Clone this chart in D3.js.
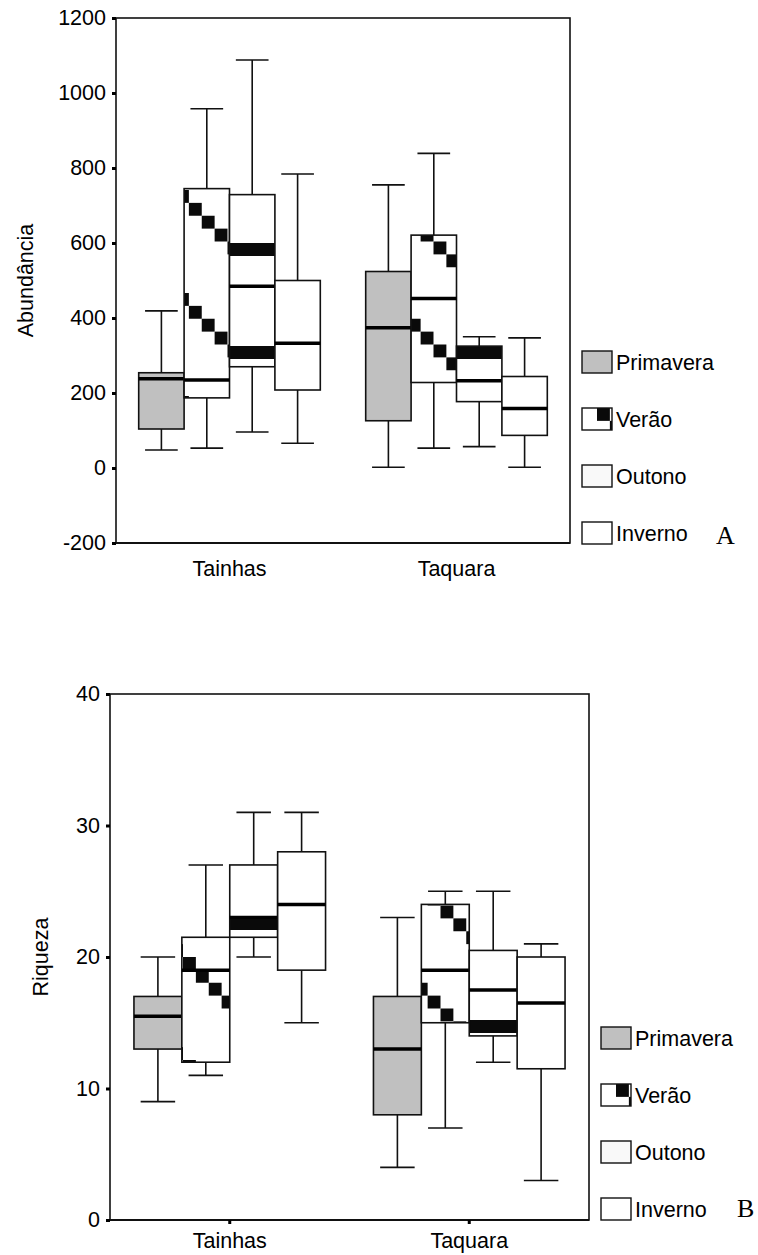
<!DOCTYPE html>
<html lang="pt">
<head>
    <meta charset="UTF-8">
    <title>Abundância e Riqueza</title>
    <script src="https://cdnjs.cloudflare.com/ajax/libs/d3/7.8.5/d3.min.js"></script>
    <style>
        body { margin: 0; background: #fff; }
        text { font-family: "Liberation Sans", Arial, sans-serif; fill: #000; }
    </style>
</head>
<body>
    <div id="wrapper"></div>
    <script>
        // ---- data ----
        const sites = ['Tainhas', 'Taquara']
        const seasons = ['Primavera', 'Verão', 'Outono', 'Inverno']
        // each box: [whisker low, Q1, median, Q3, whisker high], seasons in order
        const abundTainhas = [[48, 104, 238, 254, 419], [53, 187, 235, 745, 958], [96, 270, 485, 729, 1088], [66, 208, 333, 500, 784]]
        const abundTaquara = [[2, 126, 374, 524, 755], [53, 228, 452, 621, 839], [57, 177, 233, 325, 350], [2, 87, 159, 244, 347]]
        const riqTainhas = [[9, 13, 15.5, 17, 20], [11, 12, 19, 21.5, 27], [20, 21.5, 23, 27, 31], [15, 19, 24, 28, 31]]
        const riqTaquara = [[4, 8, 13, 17, 23], [7, 15, 19, 24, 25], [12, 14, 17.5, 20.5, 25], [3, 11.5, 16.5, 20, 21]]
        const abundTicks = [-200, 0, 200, 400, 600, 800, 1000, 1200]
        const riqTicks = [0, 10, 20, 30, 40]

        const charts = [
            {
                title: 'Abundância', letter: 'A', data: [abundTainhas, abundTaquara],
                domain: [-200, 1200], ticks: abundTicks,
                frame: { left: 116, top: 18, right: 570, bottom: 543 },
                titleX: 33, xTicks: false, axisExtend: 1, xPad: 18,
                letterPos: [716, 544], legend: { x: 582, y: 351 },
                veraoOrigin: [176, 190], outonoBand: 243
            },
            {
                title: 'Riqueza', letter: 'B', data: [riqTainhas, riqTaquara],
                domain: [0, 40], ticks: riqTicks,
                frame: { left: 110, top: 694, right: 589, bottom: 1220 },
                titleX: 48, xTicks: true, axisExtend: 3, xPad: 9,
                letterPos: [737, 1217], legend: { x: 601, y: 1027 },
                veraoOrigin: [183, 957], outonoBand: 917
            }
        ]

        const svg = d3.select('#wrapper')
            .append('svg')
                .attr('width', 758)
                .attr('height', 1255)

        const defs = svg.append('defs')
        const cell = 12.875
        const tile = cell * 8

        // diagonal checker used by SPSS for "Verão"
        function diagPattern(id, x, y) {
            const p = defs.append('pattern')
                .attr('id', id)
                .attr('patternUnits', 'userSpaceOnUse')
                .attr('x', x).attr('y', y)
                .attr('width', tile).attr('height', tile)
            p.append('rect').attr('width', tile).attr('height', tile).attr('fill', '#fff')
            p.selectAll('rect.c')
                .data(d3.range(8))
                .join('rect')
                    .attr('class', 'c')
                    .attr('x', d => d * cell)
                    .attr('y', d => d * cell)
                    .attr('width', cell)
                    .attr('height', cell)
                    .attr('fill', '#0a0a0a')
        }

        // horizontal band artefact seen in the "Outono" boxes
        function bandPattern(id, y) {
            const p = defs.append('pattern')
                .attr('id', id)
                .attr('patternUnits', 'userSpaceOnUse')
                .attr('x', 0).attr('y', y)
                .attr('width', 20).attr('height', tile)
            p.append('rect').attr('width', 20).attr('height', tile).attr('fill', '#fff')
            p.append('rect').attr('width', 20).attr('height', 13).attr('fill', '#0a0a0a')
        }

        // legend swatch pattern lives in the legend item's local space
        diagPattern('veraoLeg', 15, 0)

        charts.forEach((c, ci) => {
            const f = c.frame
            diagPattern(`verao${ci}`, c.veraoOrigin[0], c.veraoOrigin[1])
            bandPattern(`outono${ci}`, c.outonoBand)

            const fills = ['#c0c0c0', `url(#verao${ci})`, `url(#outono${ci})`, '#fff']
            const legendFills = ['#c0c0c0', 'url(#veraoLeg)', '#f9f9f9', '#fff']

            const yScale = d3.scaleLinear()
                .domain(c.domain)
                .range([f.bottom, f.top])

            const xScale = d3.scaleBand()
                .domain(sites)
                .range([f.left, f.right])

            const groupWidth = xScale.bandwidth() * 0.8
            const inner = d3.scaleBand()
                .domain(seasons)
                .range([0, groupWidth])
            const offset = (xScale.bandwidth() - groupWidth) / 2

            const g = svg.append('g')

            // frame
            g.append('rect')
                .attr('x', f.left).attr('y', f.top)
                .attr('width', f.right - f.left)
                .attr('height', f.bottom - f.top)
                .attr('fill', 'none')
                .attr('stroke', '#111')
                .attr('stroke-width', 1.6)
            g.append('line')
                .attr('x1', f.left - c.axisExtend).attr('x2', f.right)
                .attr('y1', f.bottom).attr('y2', f.bottom)
                .attr('stroke', '#111')
                .attr('stroke-width', 1.8)

            // boxes
            const boxes = []
            sites.forEach((s, i) => {
                seasons.forEach((se, j) => {
                    boxes.push({ site: s, season: se, j, v: c.data[i][j] })
                })
            })

            const bx = d => xScale(d.site) + offset + inner(d.season)
            const bw = inner.bandwidth()
            const capW = bw * 0.72

            const box = g.selectAll('g.box')
                .data(boxes)
                .join('g')
                    .attr('class', 'box')

            // whiskers
            box.append('path')
                .attr('d', d => {
                    const cx = bx(d) + bw / 2
                    return `M${cx},${yScale(d.v[4])}V${yScale(d.v[3])}` +
                        `M${cx},${yScale(d.v[1])}V${yScale(d.v[0])}` +
                        `M${cx - capW / 2},${yScale(d.v[4])}H${cx + capW / 2}` +
                        `M${cx - capW / 2},${yScale(d.v[0])}H${cx + capW / 2}`
                })
                .attr('fill', 'none')
                .attr('stroke', '#111')
                .attr('stroke-width', 1.6)

            box.append('rect')
                .attr('x', bx)
                .attr('y', d => yScale(d.v[3]))
                .attr('width', bw)
                .attr('height', d => yScale(d.v[1]) - yScale(d.v[3]))
                .attr('fill', d => fills[d.j])
                .attr('stroke', '#111')
                .attr('stroke-width', 1.6)

            // median
            box.append('line')
                .attr('x1', bx)
                .attr('x2', d => bx(d) + bw)
                .attr('y1', d => yScale(d.v[2]))
                .attr('y2', d => yScale(d.v[2]))
                .attr('stroke', '#000')
                .attr('stroke-width', 3.5)

            // y axis
            const yAxis = g.append('g')
                .attr('transform', `translate(${f.left},0)`)
                .call(d3.axisLeft(yScale).tickValues(c.ticks).tickSize(4).tickPadding(6).tickFormat(d => String(d)))
            yAxis.select('.domain').remove()
            yAxis.selectAll('.tick line').attr('stroke', '#000').attr('stroke-width', 3)
            yAxis.selectAll('.tick text')
                .style('font-family', '"Liberation Sans", Arial, sans-serif')
                .style('font-size', '21.5px')
                .attr('fill', '#000')

            // x axis
            const xAxis = g.append('g')
                .attr('transform', `translate(0,${f.bottom})`)
                .call(d3.axisBottom(xScale).tickSize(c.xTicks ? 4 : 0).tickPadding(c.xPad))
            xAxis.select('.domain').remove()
            xAxis.selectAll('.tick line').attr('stroke', '#000').attr('stroke-width', 3)
            xAxis.selectAll('.tick text')
                .style('font-family', '"Liberation Sans", Arial, sans-serif')
                .style('font-size', '21.5px')
                .attr('fill', '#000')

            // y title
            g.append('text')
                .attr('transform', `translate(${c.titleX},${(f.top + f.bottom) / 2}) rotate(-90)`)
                .attr('text-anchor', 'middle')
                .style('font-size', '21.5px')
                .text(c.title)

            // legend
            const leg = g.selectAll('g.leg')
                .data(seasons)
                .join('g')
                    .attr('class', 'leg')
                    .attr('transform', (d, i) => `translate(${c.legend.x},${c.legend.y + i * 57})`)
            leg.append('rect')
                .attr('width', 30).attr('height', 22)
                .attr('fill', (d, i) => legendFills[i])
                .attr('stroke', '#111')
                .attr('stroke-width', 1.4)
            leg.append('text')
                .attr('x', 34).attr('y', 19)
                .style('font-size', '21.5px')
                .text(d => d)

            // panel letter
            g.append('text')
                .attr('x', c.letterPos[0]).attr('y', c.letterPos[1])
                .style('font-family', '"Liberation Serif", "Times New Roman", serif')
                .style('font-size', '26px')
                .text(c.letter)
        })
    </script>
</body>
</html>
